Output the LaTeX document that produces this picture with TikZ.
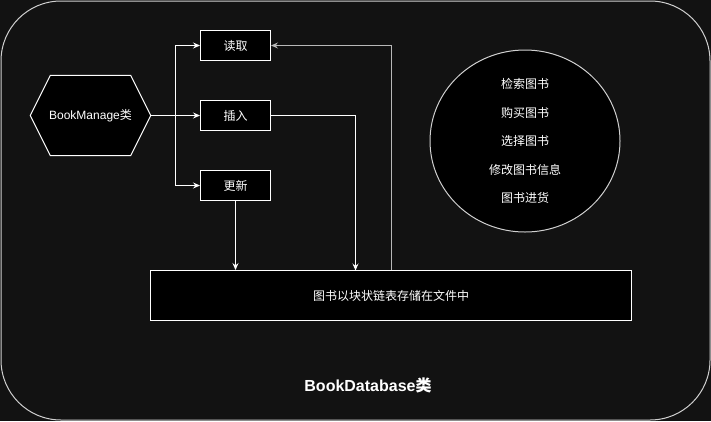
\documentclass[tikz,border=0pt]{standalone}
\usepackage{fontspec}
\setmainfont{Liberation Sans}
\newfontfamily\cjk{Noto Sans CJK SC}
\usetikzlibrary{arrows.meta,calc,shapes.geometric}

\definecolor{bgdark}{HTML}{121212}
\definecolor{edgegray}{HTML}{D0D0D0}
\definecolor{backgray}{HTML}{B8B8B8}

\tikzset{
  opbox/.style={draw=white, fill=black, text=white, line width=1pt,
    minimum width=70pt, minimum height=30pt, inner sep=0pt,
    font=\cjk\fontsize{12}{14}\selectfont},
  flow/.style={draw=white, line width=1pt,
    -{Stealth[length=7pt,width=6pt,inset=2.5pt]}},
}

\begin{document}
\begin{tikzpicture}[x=1pt, y=-1pt]
  \useasboundingbox (0,0) rectangle (711,421);
  \fill[bgdark] (0,0) rectangle (711,421);
  % outer class frame
  \draw[edgegray, line width=1pt, rounded corners=60pt] (1,1) rectangle (710,420);
  \node[text=white, font=\bfseries\fontsize{16}{18}\selectfont] (dbname) at (368,385)
    {BookDatabase{\cjk 类}};

  % manager hexagon
  \node[minimum width=120pt, minimum height=80pt, inner sep=0pt, text=white,
    font=\fontsize{12}{14}\selectfont] (manage) at (90.5,115.5) {};
  \filldraw[draw=white, fill=black, line width=1pt]
    (manage.west) -- ($(manage.north west)+(20,0)$) -- ($(manage.north east)+(-20,0)$)
    -- (manage.east) -- ($(manage.south east)+(-20,0)$) -- ($(manage.south west)+(20,0)$)
    -- cycle;
  \node[text=white, font=\fontsize{12}{14}\selectfont] at (manage) {BookManage{\cjk 类}};

  % operations
  \node[opbox] (read) at (235.5,45.5) {读取};
  \node[opbox] (insert) at (235.5,115.5) {插入};
  \node[opbox] (update) at (235.5,185.5) {更新};

  % storage
  \node[draw=white, fill=black, text=white, line width=1pt,
    minimum width=481pt, minimum height=50pt, inner sep=0pt,
    font=\cjk\fontsize{12}{14}\selectfont] (store) at (391,295.5) {图书以块状链表存储在文件中};

  % functions ellipse
  \node[ellipse, draw=edgegray, fill=black, text=white, line width=1pt,
    minimum width=190pt, minimum height=182pt, inner sep=0pt, align=center,
    font=\cjk\fontsize{12}{28.5}\selectfont] (funcs) at (525,141)
    {检索图书\\购买图书\\选择图书\\修改图书信息\\图书进货};

  % connectors
  \coordinate (split) at (175.5,115.5);
  \coordinate (drop) at (355.5,270.5);
  \draw[flow] (manage.east) -- (insert.west);
  \draw[flow] (split) |- (read.west);
  \draw[flow] (split) |- (update.west);
  \draw[flow] (update.south) -- (update.south |- store.north);
  \draw[flow] (insert.east) -| (drop);
  \draw[flow, draw=backgray] (store.north) |- (read.east);
\end{tikzpicture}
\end{document}
